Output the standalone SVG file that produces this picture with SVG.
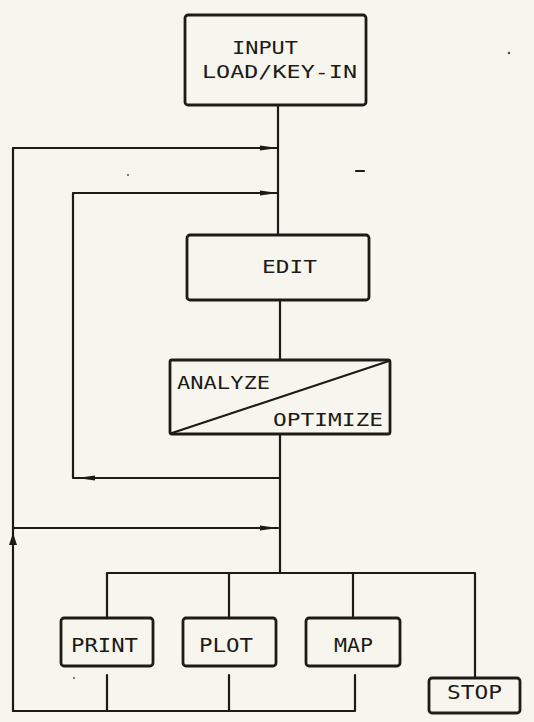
<svg xmlns="http://www.w3.org/2000/svg" width="534" height="722" viewBox="0 0 534 722">
<style>
.bg{fill:#f6f6ee}
.box{fill:none;stroke:#1e1a17;stroke-width:2.8;stroke-linejoin:round}
.ln{fill:none;stroke:#1e1a17;stroke-width:2.2;stroke-linecap:round;stroke-linejoin:round}
.ah{fill:#1e1a17}
.t{font-family:"DejaVu Sans Mono","Liberation Mono",monospace;font-size:17px;fill:#1e1a17}
.tb{font-family:"DejaVu Sans Mono","Liberation Mono",monospace;font-size:19px;fill:#1e1a17}
.dot{fill:#555}
</style>
<rect class="bg" x="0" y="0" width="534" height="722"/>
<g id="connectors">
<path class="ln" d="M278 105 V235"/>
<path class="ln" d="M280 300 V360"/>
<path class="ln" d="M280 434 V573"/>
<path class="ln" d="M13 711 V148 H278"/>
<path class="ln" d="M278 193 H73 V478 H280"/>
<path class="ln" d="M13 528 H278"/>
<path class="ln" d="M107 618 V573 H475 V678"/>
<path class="ln" d="M229 573 V618"/>
<path class="ln" d="M353 573 V618"/>
<path class="ln" d="M13 711 H355 V675"/>
<path class="ln" d="M107 675 V711"/>
<path class="ln" d="M229 675 V711"/>
<polygon class="ah" points="260,145.5 278,148 260,150.5"/>
<polygon class="ah" points="260,190.5 278,193 260,195.5"/>
<polygon class="ah" points="260,525.5 278,528 260,530.5"/>
<polygon class="ah" points="95,475.5 77,478 95,480.5"/>
<polygon class="ah" points="13,533 9,545 17,545"/>
</g>
<g id="input">
<rect class="box" x="185" y="15" width="181" height="90" rx="3"/>
<text class="t" x="232" y="54" textLength="66" lengthAdjust="spacingAndGlyphs">INPUT</text>
<text class="t" x="202" y="78" textLength="155" lengthAdjust="spacingAndGlyphs">LOAD/KEY-IN</text>
</g>
<g id="edit">
<rect class="box" x="187" y="235" width="182" height="65" rx="3"/>
<text class="t" x="262" y="273" textLength="55" lengthAdjust="spacingAndGlyphs">EDIT</text>
</g>
<g id="analyze">
<rect class="box" x="170" y="360" width="220" height="74" rx="2"/>
<path class="ln" d="M172 433 L389 361"/>
<text class="t" x="177" y="389" textLength="93" lengthAdjust="spacingAndGlyphs">ANALYZE</text>
<text class="t" x="273" y="426" textLength="110" lengthAdjust="spacingAndGlyphs">OPTIMIZE</text>
</g>
<g id="print">
<rect class="box" x="61" y="618" width="92" height="48" rx="3"/>
<text class="tb" x="71" y="652" textLength="67" lengthAdjust="spacingAndGlyphs">PRINT</text>
</g>
<g id="plot">
<rect class="box" x="183" y="618" width="93" height="48" rx="3"/>
<text class="tb" x="199" y="652" textLength="54" lengthAdjust="spacingAndGlyphs">PLOT</text>
</g>
<g id="map">
<rect class="box" x="306" y="618" width="94" height="48" rx="3"/>
<text class="tb" x="334" y="652" textLength="39" lengthAdjust="spacingAndGlyphs">MAP</text>
</g>
<g id="stop">
<rect class="box" x="429" y="678" width="91" height="35" rx="3"/>
<text class="tb" x="447" y="699" textLength="55" lengthAdjust="spacingAndGlyphs">STOP</text>
</g>
<circle class="dot" cx="509" cy="53" r="1.3"/>
<circle class="dot" cx="128" cy="175" r="1"/>
<circle class="dot" cx="74" cy="678" r="1"/>
<path class="ln" d="M356 171 H364" stroke-width="1.6"/>
</svg>
